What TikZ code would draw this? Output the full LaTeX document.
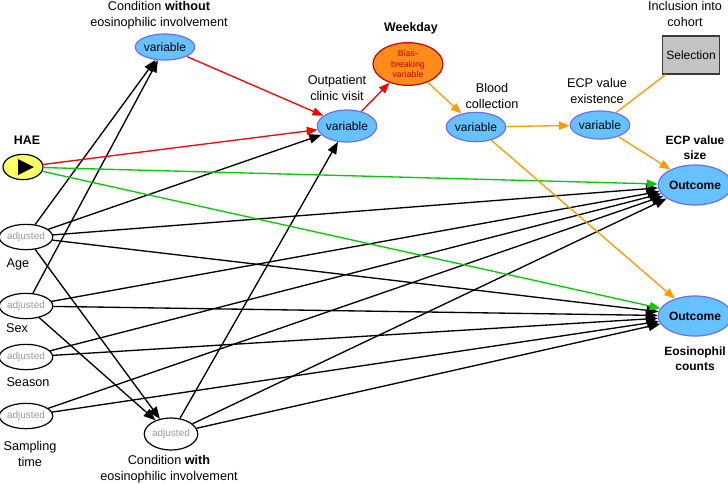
\documentclass[tikz,border=0pt]{standalone}
\usepackage{fontspec}
\setmainfont{Liberation Sans}
\usetikzlibrary{shapes.geometric,arrows.meta}
\definecolor{varfill}{HTML}{66C2FF}
\definecolor{varline}{HTML}{6C6CFF}
\definecolor{haefill}{HTML}{FFFF66}
\definecolor{wkfill}{HTML}{FF8C1A}
\definecolor{wkline}{HTML}{CC0000}
\definecolor{selfill}{HTML}{C4C4C4}
\definecolor{selline}{HTML}{3A3A3A}
\definecolor{adjgray}{HTML}{999999}
\definecolor{edred}{HTML}{FF0000}
\definecolor{edorange}{HTML}{FF9900}
\definecolor{edgreen}{HTML}{00CC00}
\begin{document}
\begin{tikzpicture}[x=0.75pt,y=-0.75pt,
  varnode/.style={ellipse, draw=varline, fill=varfill, line width=0.9pt, inner sep=0pt,
    font=\fontsize{9}{10}\selectfont},
  outnode/.style={varnode, minimum width=46pt, minimum height=30pt, font=\fontsize{9}{10}\selectfont\bfseries},
  adjnode/.style={ellipse, draw=black, fill=white, line width=0.9pt, inner sep=0pt,
    minimum width=35pt, minimum height=19pt, text=adjgray, font=\fontsize{7.5}{9}\selectfont},
  lbl/.style={align=center, inner sep=0pt, font=\fontsize{9.5}{12}\selectfont},
  blbl/.style={align=center, inner sep=0pt, font=\fontsize{9}{11.5}\selectfont\bfseries},
  colarr/.style={line width=1pt, -{Triangle[length=8pt,width=6.2pt]}},
  redarr/.style={colarr, draw=edred},
  orarr/.style={colarr, draw=edorange},
  grarr/.style={colarr, draw=edgreen},
  blarr/.style={line width=1pt, draw=black, -{Triangle[length=9pt,width=7pt]}},
]
\useasboundingbox (0,0) rectangle (728,483);

% nodes
\node[ellipse, draw=black, fill=haefill, line width=0.9pt, minimum width=30pt, minimum height=19pt, inner sep=0pt] (hae) at (23,167) {};
\fill[black] ([shift={(-5,-8)}]hae.center) -- ([shift={(-5,8)}]hae.center) -- ([shift={(11,0)}]hae.center) -- cycle;
\node[varnode, minimum width=34.5pt, minimum height=19.5pt] (cwo) at (165,47) {variable};
\node[varnode, minimum width=36pt, minimum height=24pt] (outp) at (347,126) {variable};
\node[ellipse, draw=wkline, fill=wkfill, line width=0.9pt, inner sep=0pt, minimum width=52.5pt, minimum height=32pt,
      align=center, text=wkline, font=\fontsize{6.6}{8}\selectfont] (week) at (408,64) {Bias-\\breaking\\variable};
\node[varnode, minimum width=35pt, minimum height=22pt] (blood) at (476,127) {variable};
\node[varnode, minimum width=34.5pt, minimum height=21pt] (exist) at (600,125) {variable};
\node[rectangle, draw=selline, fill=selfill, line width=0.9pt, minimum width=43pt, minimum height=28.5pt, inner sep=0pt,
      font=\fontsize{9}{10}\selectfont] (sel) at (691,55) {Selection};
\node[outnode] (out1) at (695,185) {Outcome};
\node[outnode] (out2) at (695,316) {Outcome};
\node[adjnode] (age) at (26,237) {adjusted};
\node[adjnode] (sex) at (26,306) {adjusted};
\node[adjnode] (season) at (26,357) {adjusted};
\node[adjnode] (samp) at (26,416) {adjusted};
\node[adjnode, minimum width=36pt, minimum height=24pt] (cw) at (171,434) {adjusted};

% labels
\node[blbl, font=\fontsize{9.3}{11.5}\selectfont\bfseries] (haeL) at (27,140) {HAE};
\node[lbl] (cwoL) at (159,15) {Condition \textbf{without}\\eosinophilic involvement};
\node[blbl, font=\fontsize{9.3}{11.5}\selectfont\bfseries] (weekL) at (411,28) {Weekday};
\node[lbl] (outpL) at (337,88) {Outpatient\\clinic visit};
\node[lbl] (bloodL) at (492,96) {Blood\\collection};
\node[lbl] (existL) at (597,91) {ECP value\\existence};
\node[lbl] (selL) at (685,14) {Inclusion into\\cohort};
\node[blbl] (out1L) at (695,148) {ECP value\\size};
\node[blbl] (out2L) at (695,359) {Eosinophil\\counts};
\node[lbl] (ageL) at (18,264) {Age};
\node[lbl] (sexL) at (17,328) {Sex};
\node[lbl] (seasonL) at (28,382) {Season};
\node[lbl] (sampL) at (30,454) {Sampling\\time};
\node[lbl] (cwL) at (169,469) {Condition \textbf{with}\\eosinophilic involvement};

% black edges
\draw[blarr] (age) -- (cwo);
\draw[blarr] (sex) -- (cwo);
\draw[blarr] (age) -- (outp);
\draw[blarr] (age) -- (out1);
\draw[blarr] (age) -- (out2);
\draw[blarr] (age) -- (cw);
\draw[blarr] (sex) -- (out1);
\draw[blarr] (sex) -- (out2);
\draw[blarr] (sex) -- (cw);
\draw[blarr] (season) -- (out1);
\draw[blarr] (season) -- (out2);
\draw[blarr] (samp) -- (out1);
\draw[blarr] (samp) -- (out2);
\draw[blarr] (cw) -- (outp);
\draw[blarr] (cw) -- (out1);
\draw[blarr] (cw) -- (out2);

% green edges
\draw[grarr] (hae) -- (out1);
\draw[grarr] (hae) -- (out2);

% red edges
\draw[redarr] (hae) -- (outp);
\draw[redarr] (cwo) -- (outp);
\draw[redarr] (outp) -- (week);

% orange edges
\draw[orarr] (week) -- (blood);
\draw[orarr] (blood) -- (exist);
\draw[line width=1pt, draw=edorange] (exist) -- (sel);
\draw[orarr] (exist) -- (out1);
\draw[orarr] (blood) -- (out2);
\end{tikzpicture}
\end{document}
